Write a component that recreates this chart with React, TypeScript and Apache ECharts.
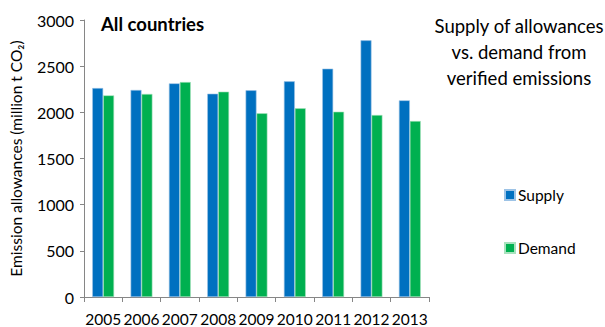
import React, { useEffect, useRef } from "react";
import * as echarts from "echarts";

const years = ["2005", "2006", "2007", "2008", "2009", "2010", "2011", "2012", "2013"];
const supply = [2263, 2242, 2314, 2202, 2239, 2336, 2473, 2780, 2130];
const demand = [2184, 2199, 2328, 2224, 1990, 2044, 2007, 1971, 1906];
const yTicks = { min: 0, max: 3000, interval: 500 };

const FONT = "Lato, 'Liberation Sans', sans-serif";

export default function App() {
  const ref = useRef<HTMLDivElement>(null);
  useEffect(() => {
    if (!ref.current) return;
    const chart = echarts.init(ref.current, undefined, { renderer: "svg" });
    chart.setOption({
      animation: false,
      backgroundColor: "#ffffff",
      textStyle: { fontFamily: FONT },
      title: [
        {
          text: "All countries",
          left: 96,
          top: 9,
          textStyle: { fontFamily: FONT, fontSize: 18.5, fontWeight: "bold", color: "#000" },
        },
        {
          text: "Supply of allowances\nvs. demand from\nverified emissions",
          left: 514,
          textAlign: "center",
          top: 8,
          textStyle: { fontFamily: FONT, fontSize: 18.5, fontWeight: "normal", color: "#000", lineHeight: 26 },
        },
      ],
      legend: {
        orient: "vertical",
        left: 499,
        top: 182,
        itemWidth: 10,
        itemHeight: 10,
        itemGap: 37,
        icon: "rect",
        textStyle: { fontFamily: FONT, fontSize: 15.5, color: "#000", padding: [0, 0, 0, -2] },
        data: ["Supply", "Demand"],
      },
      grid: { left: 81, right: 176, top: 20, bottom: 30, containLabel: false },
      xAxis: {
        type: "category",
        data: years,
        axisLine: { lineStyle: { color: "#868686", width: 1 } },
        axisTick: { show: true, length: 5, lineStyle: { color: "#868686" } },
        axisLabel: { fontFamily: FONT, fontSize: 15.5, color: "#000", margin: 14, interval: 0, hideOverlap: false },
      },
      yAxis: {
        type: "value",
        min: yTicks.min,
        max: yTicks.max,
        interval: yTicks.interval,
        name: "Emission allowances (million t CO₂)",
        nameLocation: "middle",
        nameGap: 60,
        nameTextStyle: { fontFamily: FONT, fontSize: 15.5, color: "#000" },
        splitLine: { show: false },
        axisLine: { show: true, lineStyle: { color: "#868686", width: 1 } },
        axisTick: { show: true, length: 4, lineStyle: { color: "#868686" } },
        axisLabel: { fontFamily: FONT, fontSize: 16, color: "#000", margin: 10, formatter: (v: number) => String(v) },
      },
      series: [
        {
          name: "Supply",
          type: "bar",
          data: supply,
          barGap: "0%",
          barCategoryGap: "43%",
          itemStyle: { color: "#0070C0", borderColor: "#9DC3E6", borderWidth: 0.6 },
        },
        {
          name: "Demand",
          type: "bar",
          data: demand,
          itemStyle: { color: "#00B050", borderColor: "#A9E2BE", borderWidth: 0.6 },
        },
      ],
    });
    return () => chart.dispose();
  }, []);
  return <div ref={ref} style={{ width: 605, height: 327, position: "absolute", left: 0, top: 0 }} />;
}
